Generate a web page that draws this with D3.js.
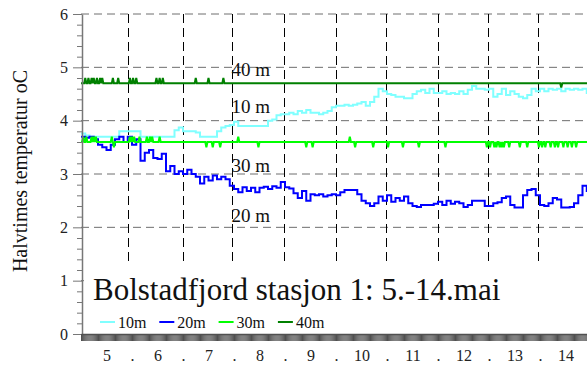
<!DOCTYPE html>
<html>
<head>
<meta charset="utf-8">
<script src="https://cdn.jsdelivr.net/npm/d3@7/dist/d3.min.js"></script>
<style>
  body { margin: 0; background: #fff; }
  svg  { display: block; font-family: "Times New Roman", "Liberation Serif", serif; }
</style>
</head>
<body>
<svg id="chart" width="587" height="365"></svg>
<script>
// Bolstadfjord, stasjon 1 — half-hour temperatures 5.–14. May.
// 30 m and 40 m sit on one level and are stored as that level plus the
// half-hour readings that step off it.

const seriesStart = 5;          // day of May
const step2h      = 1 / 12;     // days
const stepHalf    = 1 / 48;     // days

const temp10 = [
  3.76, 3.72, 3.7, 3.7, 3.7, 3.7, 3.7, 3.7, 3.7, 3.8, 3.8, 3.8,
  3.8, 3.8, 3.7, 3.7, 3.7, 3.7, 3.7, 3.7, 3.7, 3.7, 3.82, 3.87,
  3.8, 3.8, 3.8, 3.78, 3.7, 3.7, 3.7, 3.7, 3.8, 3.87, 3.9, 3.92,
  3.98, 3.9, 3.9, 3.9, 3.9, 3.9, 3.9, 3.9, 4.0, 4.02, 4.1, 4.12,
  4.12, 4.15, 4.12, 4.18, 4.15, 4.2, 4.15, 4.15, 4.12, 4.15, 4.18, 4.25,
  4.28, 4.28, 4.3, 4.28, 4.3, 4.32, 4.35, 4.28, 4.35, 4.45, 4.6, 4.55,
  4.5, 4.48, 4.45, 4.45, 4.42, 4.42, 4.5, 4.55, 4.58, 4.52, 4.6, 4.52,
  4.52, 4.55, 4.5, 4.52, 4.5, 4.55, 4.5, 4.58, 4.65, 4.6, 4.6, 4.58,
  4.6, 4.45, 4.5, 4.6, 4.48, 4.55, 4.5, 4.45, 4.42, 4.48, 4.6, 4.55,
  4.6, 4.55, 4.6, 4.58, 4.6, 4.55, 4.6, 4.58, 4.6, 4.58, 4.6, 4.52
];

const temp20 = [
  3.7, 3.68, 3.7, 3.65, 3.55, 3.5, 3.45, 3.55, 3.65, 3.7, 3.6, 3.7,
  3.55, 3.65, 3.25, 3.4, 3.45, 3.3, 3.28, 3.38, 3.05, 3.15, 3.0, 3.05,
  3.0, 3.08, 3.0, 2.95, 2.82, 2.95, 2.88, 2.97, 2.9, 2.95, 2.9, 2.78,
  2.72, 2.66, 2.75, 2.68, 2.74, 2.66, 2.74, 2.76, 2.72, 2.77, 2.74, 2.85,
  2.75, 2.73, 2.64, 2.55, 2.68, 2.5, 2.62, 2.6, 2.62, 2.58, 2.6, 2.62,
  2.6, 2.66, 2.7, 2.7, 2.7, 2.62, 2.5, 2.45, 2.4, 2.45, 2.58, 2.5,
  2.6, 2.48, 2.55, 2.5, 2.58, 2.45, 2.4, 2.38, 2.42, 2.42, 2.42, 2.44,
  2.48, 2.42, 2.5, 2.44, 2.48, 2.45, 2.38, 2.42, 2.5, 2.5, 2.5, 2.4,
  2.4, 2.45, 2.47, 2.55, 2.58, 2.42, 2.37, 2.37, 2.6, 2.7, 2.72, 2.6,
  2.42, 2.4, 2.45, 2.55, 2.52, 2.37, 2.37, 2.38, 2.45, 2.6, 2.78, 2.68
];

const level30  = 3.6;
const peaks30  = [5.05, 5.1, 5.2, 5.25, 5.3, 5.6, 5.95, 6.0, 6.05, 6.15, 6.3, 6.35, 6.4, 6.55, 8.08, 10.27];
const dips30   = [5.65, 7.46, 7.59, 7.72, 8.48, 9.42, 9.55, 10.37, 10.73, 11.03, 11.32, 11.62, 12.14,
                  12.95, 13.02, 13.1, 13.15, 13.2, 13.25, 13.3, 13.4, 13.6, 13.76,
                  13.98, 14.05, 14.1, 14.2, 14.3, 14.35, 14.45, 14.55, 14.62, 14.7];
const peak30   = 3.7;
const dip30    = 3.5;

const level40  = 4.7;
const peaks40  = [5.08, 5.14, 5.21, 5.24, 5.31, 5.37, 5.41, 5.63, 5.73, 5.96, 6.03, 6.09,
                  6.48, 6.55, 6.61, 7.24, 7.5, 7.79];
const dips40   = [14.42];
const peak40   = 4.8;
const dip40    = 4.62;

const halfHourCount = 480;

const seriesNames  = ['10m', '20m', '30m', '40m'];
const seriesColors = ['#80ffff', '#0000ff', '#00ff00', '#008000'];
const depthLabels  = ['40 m', '10 m', '30 m', '20 m'];
const depthLabelAt = [[7.95, 4.83], [7.95, 4.15], [7.95, 3.03], [7.95, 2.1]];  // [day, °C] of label baseline

const yTicks     = [0, 1, 2, 3, 4, 5, 6];
const dayTicks   = [5.5, 6, 6.5, 7, 7.5, 8, 8.5, 9, 9.5, 10, 10.5, 11, 11.5, 12, 12.5, 13, 13.5, 14, 14.5];
const dayLabels  = ['5', '.', '6', '.', '7', '.', '8', '.', '9', '.', '10', '.', '11', '.', '12', '.', '13', '.', '14'];
const gridDays   = [5.92, 7, 7.96, 8.98, 10, 10.98, 12, 12.98, 13.96];

const title  = 'Bolstadfjord stasjon 1: 5.-14.mai';
const yTitle = 'Halvtimes temperatur oC';

// ---------------------------------------------------------------------------

const W = 587, H = 365;
const svg = d3.select('#chart');

const x = d3.scaleLinear().domain([5, 15]).range([81, 591]);
const y = d3.scaleLinear().domain([0, 6]).range([334, 14]);

// Series rows { t, v }
const stepRows = vals => {
  const rows = vals.map((v, i) => ({ t: seriesStart + i * step2h, v }));
  rows.push({ t: seriesStart + vals.length * step2h, v: vals[vals.length - 1] });
  return rows;
};
const levelRows = (level, peaks, peakV, dips, dipV) => {
  const vals = new Array(halfHourCount).fill(level);
  const idx = t => Math.round((t - seriesStart) / stepHalf);
  peaks.forEach(t => { vals[idx(t)] = peakV; });
  dips.forEach(t => { vals[idx(t)] = dipV; });
  return vals.map((v, i) => ({ t: seriesStart + i * stepHalf, v }));
};

const series = [
  { rows: stepRows(temp10), curve: d3.curveStepAfter },
  { rows: stepRows(temp20), curve: d3.curveStepAfter },
  { rows: levelRows(level30, peaks30, peak30, dips30, dip30), curve: d3.curveLinear },
  { rows: levelRows(level40, peaks40, peak40, dips40, dip40), curve: d3.curveLinear },
];

// Grid
const gGrid = svg.append('g');
gGrid.selectAll('line.h')
  .data(yTicks.filter(d => d > 0))
  .join('line')
  .attr('x1', x(5)).attr('x2', W)
  .attr('y1', d => y(d)).attr('y2', d => y(d))
  .attr('stroke', '#6e6e6e').attr('stroke-width', 1)
  .attr('stroke-dasharray', '8,5');
gGrid.selectAll('line.v')
  .data(gridDays)
  .join('line')
  .attr('x1', d => Math.round(x(d)) + 0.5).attr('x2', d => Math.round(x(d)) + 0.5)
  .attr('y1', y(6)).attr('y2', y(0))
  .attr('stroke', '#000').attr('stroke-width', 1)
  .attr('stroke-dasharray', '9,5');

// Lines
svg.append('clipPath').attr('id', 'plot')
  .append('rect').attr('x', x(5)).attr('y', 0).attr('width', W - x(5)).attr('height', y(0));

const gLines = svg.append('g').attr('clip-path', 'url(#plot)');
series.forEach((s, i) => {
  gLines.append('path')
    .datum(s.rows)
    .attr('fill', 'none')
    .attr('stroke', seriesColors[i])
    .attr('stroke-width', 2)
    .attr('stroke-linejoin', 'miter')
    .attr('d', d3.line().curve(s.curve).x(d => x(d.t)).y(d => y(d.v)));
});

// Depth labels
svg.append('g').selectAll('text')
  .data(depthLabels)
  .join('text')
  .attr('x', (d, i) => x(depthLabelAt[i][0]))
  .attr('y', (d, i) => y(depthLabelAt[i][1]))
  .attr('font-size', 19)
  .attr('fill', '#111')
  .text(d => d);

// Title + legend box
svg.append('rect')
  .attr('x', 84).attr('y', 263).attr('width', W - 84).attr('height', 70)
  .attr('fill', '#fff');

svg.append('text')
  .attr('x', 93).attr('y', 300)
  .attr('font-size', 31)
  .attr('fill', '#111')
  .text(title);

const gLeg = svg.append('g').attr('transform', 'translate(100,322)');
seriesNames.forEach((name, i) => {
  const g = gLeg.append('g').attr('transform', `translate(${i * 59.3},0)`);
  g.append('line').attr('x1', 0).attr('x2', 15).attr('y1', 0).attr('y2', 0)
    .attr('stroke', seriesColors[i]).attr('stroke-width', 2);
  g.append('text').attr('x', 18).attr('y', 5.5)
    .attr('font-size', 16).attr('fill', '#111').text(name);
});

// Y axis
const minorY = d3.range(0, 30).map(i => i * 0.2).filter(v => Math.abs(v - Math.round(v)) > 1e-6);
const gYMinor = svg.append('g').attr('transform', `translate(${x(5) + 1},0)`)
  .call(d3.axisLeft(y).tickValues(minorY).tickSize(5).tickFormat(''));
gYMinor.select('.domain').remove();
gYMinor.selectAll('line').attr('stroke', '#777');

const gY = svg.append('g').attr('transform', `translate(${x(5) + 1},0)`)
  .call(d3.axisLeft(y).tickValues(yTicks).tickSize(9).tickSizeOuter(0).tickPadding(5)
    .tickFormat(d3.format('d')));
gY.select('.domain').attr('stroke', '#777').attr('stroke-width', 1.5);
gY.selectAll('line').attr('stroke', '#777');
gY.selectAll('text').attr('font-size', 16).attr('fill', '#222')
  .attr('font-family', '"Times New Roman", "Liberation Serif", serif');

// X axis: a tick per half-hour reading gives the dense band
const halfHours = d3.range(0, halfHourCount + 1).map(i => seriesStart + i * stepHalf);
const gXBand = svg.append('g').attr('transform', `translate(0,${y(0)})`)
  .call(d3.axisBottom(x).tickValues(halfHours).tickSize(7).tickSizeOuter(0).tickFormat(''));
gXBand.selectAll('line').attr('stroke', '#505050');
gXBand.select('.domain').attr('stroke', '#505050').attr('stroke-width', 1.5);

const gX = svg.append('g').attr('transform', `translate(0,${y(0)})`)
  .call(d3.axisBottom(x).tickValues(dayTicks).tickSize(0).tickPadding(16)
    .tickFormat((d, i) => dayLabels[i]));
gX.select('.domain').remove();
gX.selectAll('text').attr('font-size', 16).attr('fill', '#222')
  .attr('font-family', '"Times New Roman", "Liberation Serif", serif');

// Y title
svg.append('text')
  .attr('transform', 'translate(20,171) rotate(-90)')
  .attr('text-anchor', 'middle')
  .attr('dominant-baseline', 'central')
  .attr('font-size', 20)
  .attr('fill', '#111')
  .text(yTitle);
</script>
</body>
</html>
